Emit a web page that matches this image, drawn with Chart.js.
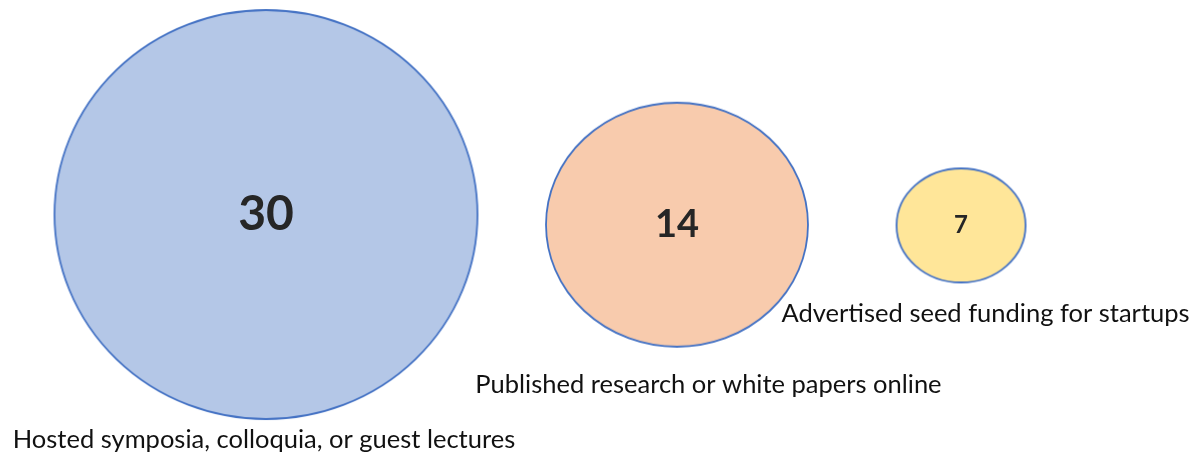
<!DOCTYPE html>
<html>
<head>
<meta charset="utf-8">
<script src="https://cdn.jsdelivr.net/npm/chart.js@4.4.1/dist/chart.umd.min.js"></script>
<style>
  html, body { margin: 0; padding: 0; background: #fff; }
  #wrap { width: 1197px; height: 454px; }
</style>
</head>
<body>
<div id="wrap"><canvas id="bubbles" width="1197" height="454"></canvas></div>
<script>
const categories = [
  "Hosted symposia, colloquia, or guest lectures",
  "Published research or white papers online",
  "Advertised seed funding for startups",
];
const counts = [30, 14, 7];
// where each bubble sits on the (hidden) axes
const xPos = [1, 2.545, 3.613];
const yPos = [0.055, 0.01, 0.007];

// look of each bubble: ellipse radii (px) and fill
const radiiX = [211.5, 131, 64.5];
const radiiY = [204.5, 122, 57];
const fills = ["#B4C7E7", "#F8CBAD", "#FFE699"];
const edge = "#4472C4";
const numberSizes = [48, 38, 24];
// label placement relative to bubble centre
const labelDx = [-2, 31.5, 24.5];
const labelDy = [225.5, 160, 88];

function ellipseImage(rx, ry, fill) {
  const c = document.createElement("canvas");
  c.width = Math.ceil(rx * 2 + 4);
  c.height = Math.ceil(ry * 2 + 4);
  const g = c.getContext("2d");
  g.beginPath();
  g.ellipse(c.width / 2, c.height / 2, rx, ry, 0, 0, Math.PI * 2);
  g.fillStyle = fill;
  g.fill();
  g.lineWidth = 1.8;
  g.strokeStyle = edge;
  g.stroke();
  return c;
}

const images = counts.map((v, i) => ellipseImage(radiiX[i], radiiY[i], fills[i]));

const bubbleText = {
  id: "bubbleText",
  afterDatasetsDraw(chart) {
    const ctx = chart.ctx;
    const meta = chart.getDatasetMeta(0);
    ctx.save();
    ctx.textAlign = "center";
    ctx.textBaseline = "middle";
    meta.data.forEach((pt, i) => {
      ctx.fillStyle = "#262626";
      ctx.font = "bold " + numberSizes[i] + "px Lato";
      ctx.fillText(String(counts[i]), pt.x, pt.y);
      ctx.fillStyle = "#111";
      ctx.font = "25.5px Lato";
      ctx.fillText(categories[i], pt.x + labelDx[i], pt.y + labelDy[i]);
    });
    ctx.restore();
  },
};

new Chart(document.getElementById("bubbles"), {
  type: "scatter",
  data: {
    labels: categories,
    datasets: [
      {
        data: counts.map((v, i) => ({ x: xPos[i], y: yPos[i], v: v })),
        pointStyle: images,
        radius: radiiY,
        hoverRadius: radiiY,
        clip: false,
      },
    ],
  },
  options: {
    responsive: false,
    animation: false,
    layout: { padding: 0, autoPadding: false },
    plugins: { legend: { display: false }, tooltip: { enabled: false } },
    scales: {
      x: { type: "linear", min: 0, max: 4.5, display: false },
      y: { type: "linear", min: -1, max: 1, display: false },
    },
  },
  plugins: [bubbleText],
});
</script>
</body>
</html>
